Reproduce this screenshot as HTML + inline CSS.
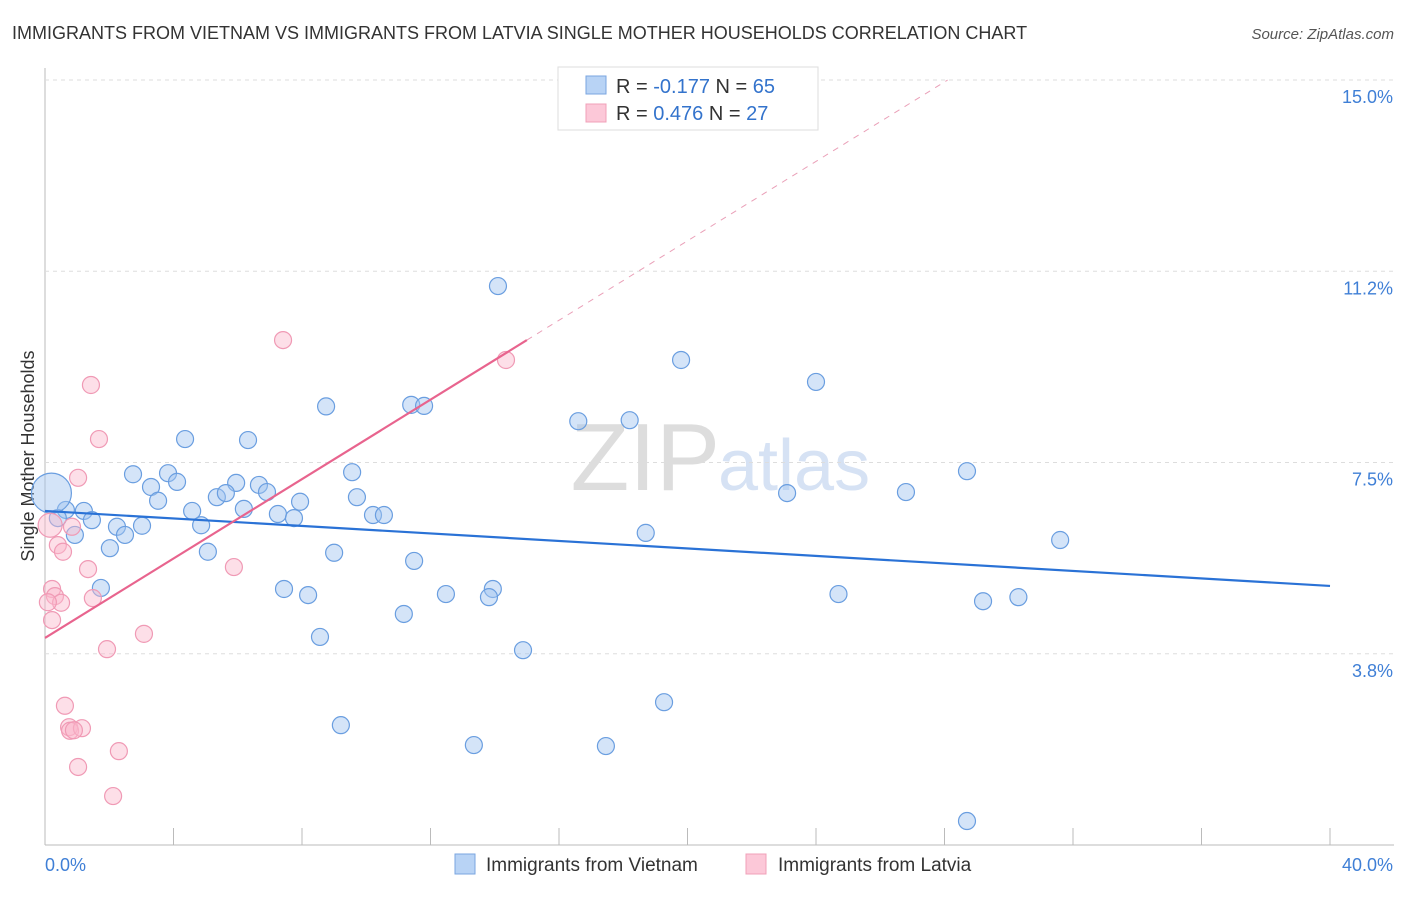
<!DOCTYPE html>
<html><head><meta charset="utf-8"><style>
body{margin:0;background:#fff;font-family:"Liberation Sans",sans-serif}
svg text{font-family:"Liberation Sans",sans-serif}
</style></head><body>
<svg id="c" width="1406" height="892">
<text x="12" y="39" font-size="18" fill="#333">IMMIGRANTS FROM VIETNAM VS IMMIGRANTS FROM LATVIA SINGLE MOTHER HOUSEHOLDS CORRELATION CHART</text>
<text x="1394" y="39" font-size="15" fill="#555" font-style="italic" text-anchor="end">Source: ZipAtlas.com</text>
<text x="720" y="490" font-size="96" fill="#ddd" text-anchor="end" font-family="Liberation Serif">ZIP</text>
<text x="718" y="490" font-size="72" fill="#d6e2f4">atlas</text>
<text x="34" y="456" font-size="18" fill="#333" text-anchor="middle" transform="rotate(-90 34 456)">Single Mother Households</text>
<g id="grid"></g><g id="pts"></g><g id="lines"></g>
<g>
<rect x="558" y="67" width="260" height="63" fill="#fff" stroke="#ddd"/>
<rect x="586" y="76" width="20" height="18" fill="#b8d3f5" stroke="#7aa6e0"/>
<rect x="586" y="104" width="20" height="18" fill="#fcc8d8" stroke="#f0a0b8"/>
<text x="616" y="93" font-size="20" fill="#333">R = <tspan fill="#3373cc">-0.177</tspan>   N = <tspan fill="#3373cc">65</tspan></text>
<text x="616" y="120" font-size="20" fill="#333">R = <tspan fill="#3373cc"> 0.476</tspan>   N = <tspan fill="#3373cc">27</tspan></text>
</g>
<g>
<rect x="455" y="854" width="20" height="20" fill="#b8d3f5" stroke="#7aa6e0"/>
<text x="486" y="871" font-size="19" fill="#333">Immigrants from Vietnam</text>
<rect x="746" y="854" width="20" height="20" fill="#fcc8d8" stroke="#f0a0b8"/>
<text x="778" y="871" font-size="19" fill="#333">Immigrants from Latvia</text>
</g>
</svg>
<script>
const yTicks=[3.75,7.5,11.25,15];
const yTickLabels=["3.8%","7.5%","11.2%","15.0%"];
const xTicks=[0,4,8,12,16,20,24,28,32,36,40];
const vietnamX=[14.1,19.8,24.0,8.75,11.4,11.8,16.6,18.2,4.36,6.32,28.7,9.56,2.74,3.83,3.3,4.11,5.95,6.66,6.91,3.52,5.35,5.63,7.94,9.71,23.1,26.8,4.58,6.19,7.25,7.75,10.21,10.55,0.65,1.21,1.46,0.4,2.24,3.02,4.86,2.49,0.93,18.7,2.02,5.07,9.0,11.49,31.6,1.74,7.44,13.94,24.7,8.19,12.48,13.82,29.2,30.3,11.17,8.56,14.88,19.27,9.21,13.35,17.46,28.7,0.2];
const vietnamY=[10.96,9.51,9.08,8.6,8.63,8.61,8.31,8.33,7.96,7.94,7.33,7.31,7.27,7.29,7.02,7.12,7.1,7.06,6.92,6.75,6.82,6.9,6.73,6.82,6.9,6.92,6.55,6.59,6.49,6.41,6.47,6.47,6.57,6.55,6.37,6.41,6.24,6.26,6.27,6.08,6.08,6.12,5.82,5.75,5.73,5.57,5.98,5.04,5.02,5.02,4.92,4.9,4.92,4.86,4.78,4.86,4.53,4.08,3.82,2.8,2.35,1.96,1.94,0.47,6.9];
const latviaX=[7.41,14.35,1.43,1.68,1.03,0.84,0.4,0.56,1.34,5.88,0.22,0.31,0.5,0.09,1.49,0.22,3.08,1.93,0.62,0.75,0.78,1.15,0.9,2.3,1.03,2.12,0.16];
const latviaY=[9.9,9.51,9.02,7.96,7.2,6.24,5.88,5.75,5.41,5.45,5.02,4.88,4.75,4.76,4.84,4.41,4.14,3.84,2.73,2.31,2.24,2.29,2.25,1.84,1.53,0.96,6.27];
const vietnamFit=[6.55,5.08];
const latviaFit=[4.06,9.9];
const X=v=>45+v/40*1285, Y=v=>845-v/15*765;
const NS="http://www.w3.org/2000/svg";
function mk(t,a,p){const e=document.createElementNS(NS,t);for(const k in a)e.setAttribute(k,a[k]);p.appendChild(e);return e;}
const g=document.getElementById('grid');
const ax=mk('line',{x1:45,y1:68,x2:45,y2:845,stroke:'#bbb'},g);


const bx=mk('line',{x1:45,y1:845,x2:1394,y2:845,stroke:'#bbb'},g);


yTicks.forEach((t,i)=>{
 const l=mk('line',{x1:45,y1:Y(t),x2:1394,y2:Y(t),stroke:'#ddd','stroke-dasharray':'4,4'},g);
 
 
 const tx=mk('text',{x:1393,y:Y(t)+23,'font-size':18,fill:'#3f7fd6','text-anchor':'end'},g);
 tx.textContent=yTickLabels[i];
 
 
});
xTicks.forEach(t=>{
 const l=mk('line',{x1:X(t),y1:828,x2:X(t),y2:845,stroke:'#bbb'},g);
 
 
});
[[0,"0.0%","start",45],[40,"40.0%","end",1393]].forEach(a=>{
 const tx=mk('text',{x:a[3],y:871,'font-size':18,fill:'#3f7fd6','text-anchor':a[2]},g);
 tx.textContent=a[1];
 
 
});
const p=document.getElementById('pts');
vietnamX.forEach((v,i)=>{
 const big=i===vietnamX.length-1;
 const c=mk('circle',{cx:X(v),cy:Y(vietnamY[i]),r:big?20:8.5,fill:'rgba(160,195,240,0.45)',stroke:'#6a9ee0','stroke-width':1.2},p);
 
 
});
latviaX.forEach((v,i)=>{
 const big=i===latviaX.length-1;
 const c=mk('circle',{cx:X(v),cy:Y(latviaY[i]),r:big?12:8.5,fill:'rgba(250,185,205,0.45)',stroke:'#f09ab5','stroke-width':1.2},p);
 
 
});
const L=document.getElementById('lines');
const b=mk('line',{x1:X(0),y1:Y(vietnamFit[0]),x2:X(40),y2:Y(vietnamFit[1]),stroke:'#2a72d6','stroke-width':2.2},L);


const sl=(latviaFit[1]-latviaFit[0])/15;
const r=mk('line',{x1:X(0),y1:Y(latviaFit[0]),x2:X(15),y2:Y(latviaFit[1]),stroke:'#e8648e','stroke-width':2.2},L);


const xe=(15-latviaFit[0])/sl;
const d=mk('line',{x1:X(15),y1:Y(latviaFit[1]),x2:X(xe),y2:Y(15),stroke:'#eaa0b8','stroke-width':1,'stroke-dasharray':'6,6'},L);


</script>
</body></html>
